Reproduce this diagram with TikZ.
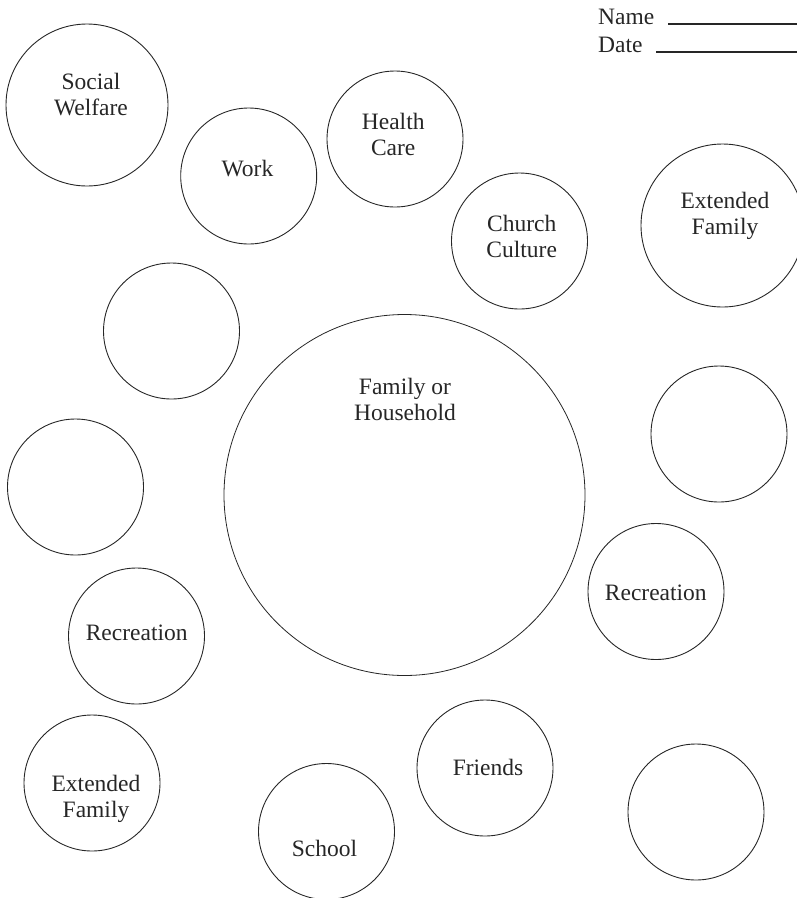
\documentclass[tikz,border=0pt]{standalone}
\usepackage{fontspec}
\setmainfont{Liberation Serif}
\begin{document}
\begin{tikzpicture}[x=1pt,y=-1pt,
  ring/.style={draw=black!85, line width=0.9pt, circle, inner sep=0pt, outer sep=0pt, minimum size=136pt},
  bigring/.style={ring, minimum size=162pt},
  lbl/.style={anchor=north, inner sep=0pt, align=center, text=black!85,
    font=\fontsize{23.5}{26.5}\selectfont},
  hdr/.style={anchor=base west, inner sep=0pt, text=black!85, font=\fontsize{23.5}{26.5}\selectfont},
  rule/.style={draw=black!85, line width=1.1pt}]
\useasboundingbox (0,0) rectangle (797,898);

% Name / Date header
\node[hdr] (name) at (598,24) {Name};
\node[hdr] (date) at (598,52) {Date};
\coordinate (nameA) at (668,24);
\coordinate (nameB) at (797,24);
\coordinate (dateA) at (656,52);
\coordinate (dateB) at (797,52);
\draw[rule] (nameA) -- (nameB);
\draw[rule] (dateA) -- (dateB);

% central circle
\node[ring, line width=0.8pt, minimum size=361pt] (family) at (404.5,495) {};
\node[lbl] (familyT) at (405,377.8) {Family or\\Household};

% surrounding circles
\node[bigring] (welfare) at (87,105) {};
\node[lbl] (welfareT) at (91,72.5) {Social\\Welfare};

\node[ring] (work) at (248.7,176) {};
\node[lbl] (workT) at (247.5,160.2) {Work};

\node[ring] (health) at (395,139) {};
\node[lbl] (healthT) at (393.2,112.8) {Health\\Care};

\node[ring] (church) at (519.5,241) {};
\node[lbl] (churchT) at (521.7,214.5) {Church\\Culture};

\node[ring, minimum size=163pt] (extR) at (722.5,225.5) {};
\node[lbl] (extRT) at (725,191.5) {Extended\\Family};

\node[ring] (emptyA) at (171.5,331) {};
\node[ring] (emptyB) at (75.5,487) {};
\node[ring] (emptyC) at (719,434) {};

\node[ring] (recL) at (136.5,636) {};
\node[lbl] (recLT) at (136.7,624.5) {Recreation};

\node[ring] (recR) at (656,591.5) {};
\node[lbl] (recRT) at (655.8,584.5) {Recreation};

\node[ring] (friends) at (485,768) {};
\node[lbl] (friendsT) at (488,759) {Friends};

\node[ring] (extL) at (92,783) {};
\node[lbl] (extLT) at (96,774.5) {Extended\\Family};

\node[ring] (school) at (326.5,831.5) {};
\node[lbl] (schoolT) at (324.5,839.5) {School};

\node[ring] (emptyD) at (696,812) {};
\end{tikzpicture}
\end{document}
